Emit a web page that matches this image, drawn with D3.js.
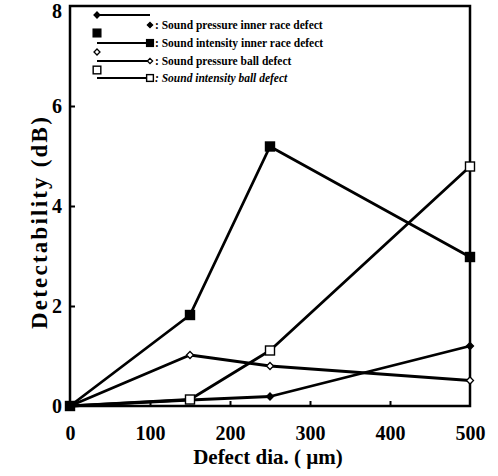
<!DOCTYPE html>
<html>
<head>
<meta charset="utf-8">
<script src="https://cdn.jsdelivr.net/npm/d3@7"></script>
<style>
  body { margin: 0; background: #fff; }
  svg text { font-family: "Liberation Serif", "Times New Roman", serif; font-weight: bold; fill: #000; }
</style>
</head>
<body>
<div id="chart"></div>
<script>
// defect diameters (um) and detectability (dB)
const diameters = [0, 150, 250, 500];
const spInner = [0, 0.12, 0.19, 1.2];
const siInner = [0, 1.82, 5.19, 2.98];
const spBall = [0, 1.02, 0.8, 0.51];
const siBall = [0, 0.13, 1.11, 4.79];

const xTicks = [0, 100, 200, 300, 400, 500];
const yTicks = [0, 2, 4, 6, 8];
const seriesNames = [
  ": Sound pressure inner race defect",
  ": Sound intensity inner race defect",
  ": Sound pressure ball defect",
  ": Sound intensity ball defect"
];

const W = 498, H = 476;
const svg = d3.select("#chart").append("svg")
  .attr("width", W)
  .attr("height", H);

const x = d3.scaleLinear().domain([0, 500]).range([70, 470]);
const y = d3.scaleLinear().domain([0, 8]).range([406, 6]);

// marker kinds per series
const series = [
  {vals: spInner, shape: "diamond", fill: true, size: 3.5},
  {vals: siInner, shape: "square", fill: true, size: 4.5},
  {vals: spBall, shape: "diamond", fill: false, size: 3.5},
  {vals: siBall, shape: "square", fill: false, size: 4.5}
];

function marker(g, shape, fill, s, cx, cy) {
  if (shape === "square") {
    g.append("rect")
      .attr("x", cx - s).attr("y", cy - s)
      .attr("width", 2 * s).attr("height", 2 * s)
      .attr("fill", fill ? "#000" : "#fff")
      .attr("stroke", "#000").attr("stroke-width", 1.4);
  } else {
    g.append("path")
      .attr("d", `M${cx},${cy - s}L${cx + s},${cy}L${cx},${cy + s}L${cx - s},${cy}Z`)
      .attr("fill", fill ? "#000" : "#fff")
      .attr("stroke", "#000").attr("stroke-width", 1.3);
  }
}

// axes (ticks point inward)
const xAxis = svg.append("g")
  .attr("transform", "translate(0,406)")
  .call(d3.axisBottom(x).tickValues(xTicks).tickSize(-5).tickPadding(20));
const yAxis = svg.append("g")
  .attr("transform", "translate(70,0)")
  .call(d3.axisLeft(y).tickValues(yTicks).tickSize(-5).tickPadding(8));

[xAxis, yAxis].forEach(a => {
  a.select(".domain").remove();
  a.selectAll(".tick line").attr("stroke", "#000").attr("stroke-width", 2);
  a.selectAll(".tick text").style("font-size", "20px");
});
xAxis.selectAll(".tick").filter(d => d === 0 || d === 500).select("line").remove();
yAxis.selectAll(".tick").filter(d => d === 0 || d === 8).select("line").remove();
// top label sits a bit lower in the original so it is not clipped
yAxis.selectAll(".tick").filter(d => d === 8).select("text").attr("dy", "0.55em");

// frame
svg.append("rect")
  .attr("x", x(0)).attr("y", y(8))
  .attr("width", x(500) - x(0)).attr("height", y(0) - y(8))
  .attr("fill", "none").attr("stroke", "#000").attr("stroke-width", 2.5);

// lines
const line = d3.line()
  .x((d, i) => x(diameters[i]))
  .y(d => y(d));

const plot = svg.append("g");
series.forEach(s => {
  plot.append("path")
    .datum(s.vals)
    .attr("d", line)
    .attr("fill", "none")
    .attr("stroke", "#000")
    .attr("stroke-width", 2.8)
    .attr("stroke-linejoin", "round");
});
series.forEach(s => {
  s.vals.forEach((v, i) => {
    if (i === 0) return;
    marker(plot, s.shape, s.fill, s.size, x(diameters[i]), y(v));
  });
});
// big origin point
marker(plot, "square", true, 4.5, x(0), y(0));

// legend
const legendRows = [
  {my: 15, ly: 15, ty: 25},
  {my: 33, ly: 43, ty: 43},
  {my: 52, ly: 61, ty: 61},
  {my: 70, ly: 78, ty: 78}
];
const legend = svg.append("g");
series.forEach((s, i) => {
  const r = legendRows[i];
  marker(legend, s.shape, s.fill, s.size * 0.85, 97, r.my);
  legend.append("line")
    .attr("x1", 97).attr("x2", 150)
    .attr("y1", r.ly).attr("y2", r.ly)
    .attr("stroke", "#000").attr("stroke-width", 2);
  marker(legend, s.shape, s.fill, s.size * 0.75, 150, r.ty);
  legend.append("text")
    .attr("x", 155).attr("y", r.ty + 4)
    .style("font-size", "11.5px")
    .style("font-style", i === 3 ? "italic" : "normal")
    .text(seriesNames[i]);
});

// axis titles
svg.append("text")
  .attr("x", 268).attr("y", 464)
  .attr("text-anchor", "middle")
  .style("font-size", "21px")
  .text("Defect dia. ( \u00b5m)");

svg.append("text")
  .attr("transform", "translate(47,222) rotate(-90)")
  .attr("text-anchor", "middle")
  .style("font-size", "23px")
  .style("letter-spacing", "2.2px")
  .text("Detectability (dB)");
</script>
</body>
</html>
